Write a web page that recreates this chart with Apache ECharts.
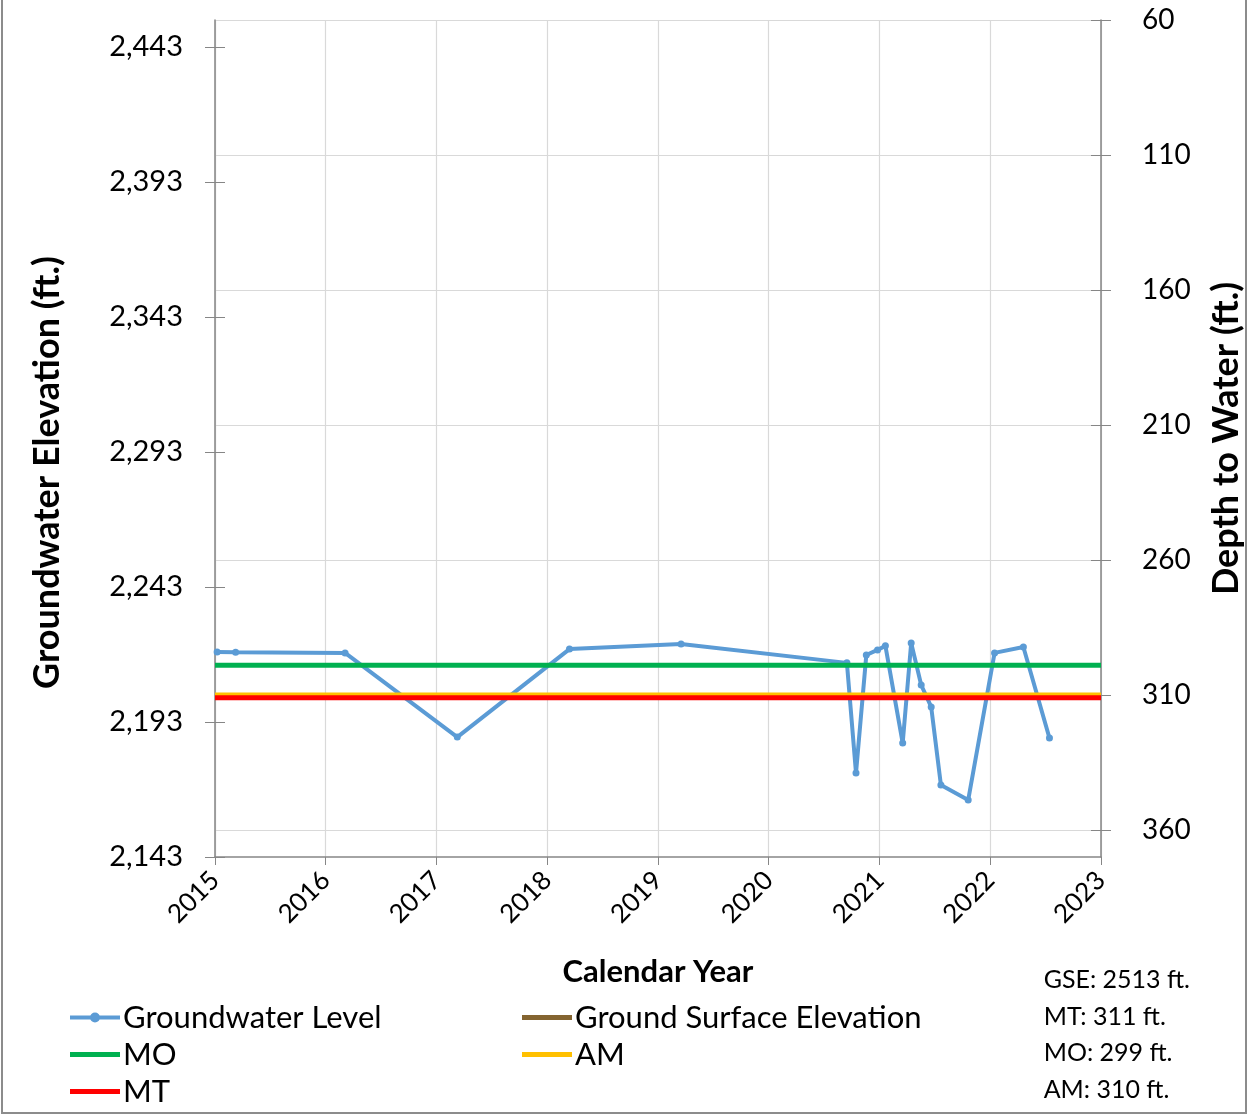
<!DOCTYPE html>
<html>
<head>
<meta charset="utf-8">
<script src="https://cdn.jsdelivr.net/npm/echarts@6/dist/echarts.min.js"></script>
<style>
html, body { margin: 0; padding: 0; background: #fff; }
#chart { width: 1249px; height: 1118px; }
</style>
</head>
<body>
<div id="chart"></div>
<script>
// measured groundwater levels (elevation, ft.)
var sampleDates = ['2015-01-08', '2015-03-10', '2016-03-05', '2017-03-10', '2018-03-15',
    '2019-03-18', '2020-09-15', '2020-10-15', '2020-11-18', '2020-12-25', '2021-01-20',
    '2021-03-18', '2021-04-15', '2021-05-18', '2021-06-20', '2021-07-22', '2021-10-20',
    '2022-01-15', '2022-04-20', '2022-07-15'];
var waterLevels = [2218.9, 2218.8, 2218.6, 2187.4, 2220.0,
    2221.9, 2214.9, 2174.1, 2217.8, 2219.7, 2221.2,
    2185.2, 2222.3, 2206.7, 2198.6, 2169.7, 2164.1,
    2218.6, 2220.8, 2187.1];

// well thresholds
var gse = 2513;          // ground surface elevation
var mtDepth = 311;
var moDepth = 299;
var amDepth = 310;

var elevTicks = [2143, 2193, 2243, 2293, 2343, 2393, 2443];
var depthTicks = [60, 110, 160, 210, 260, 310, 360];
var xStart = '2015-01-01';
var xEnd = '2023-01-01';

var FONT = 'Lato';

// legend icons: thick line, and thick line with a dot (both drawn clockwise)
var LINE_ICON = 'path://M0,0 L0,0 M0,10 L0,10 M0,2.5 L50,2.5 L50,7.5 L0,7.5 Z';
var DOT_ICON = 'path://M0,0 L0,0 M0,10 L0,10 M0,3 L50,3 L50,7 L0,7 Z M20,5 A5,5 0 1,1 30,5 A5,5 0 1,1 20,5 Z';

function withComma(v) {
    var s = String(Math.round(v));
    return s.replace(/\B(?=(\d{3})+(?!\d))/g, ',');
}

function flatLine(elev) {
    return [[xStart, elev], [xEnd, elev]];
}

var gwData = sampleDates.map(function (d, i) { return [d, waterLevels[i]]; });

var chart = echarts.init(document.getElementById('chart'));

var legendText = { fontFamily: FONT, fontSize: 31, color: '#000', lineHeight: 30, padding: [0, 0, 0, -2] };

var option = {
    animation: false,
    backgroundColor: '#fff',
    textStyle: { fontFamily: FONT },
    grid: { left: 215, right: 148, top: 20, bottom: 261, containLabel: false, outerBoundsMode: 'none' },
    xAxis: {
        type: 'time',
        min: xStart,
        max: xEnd,
        minInterval: 365 * 24 * 3600 * 1000,
        name: 'Calendar Year',
        nameLocation: 'middle',
        nameGap: 99,
        nameTextStyle: { fontFamily: FONT, fontSize: 31, fontWeight: 'bold', color: '#000' },
        axisLine: { lineStyle: { color: '#868686', width: 1.5 } },
        axisTick: { show: true, length: 8, lineStyle: { color: '#868686' } },
        axisLabel: {
            rotate: 45,
            fontSize: 26,
            color: '#000',
            margin: 19,
            formatter: '{yyyy}',
            showMinLabel: true,
            showMaxLabel: true
        },
        splitLine: { show: true, lineStyle: { color: '#d9d9d9', width: 1.2 } }
    },
    yAxis: [
        {
            type: 'value',
            position: 'left',
            min: 2143,
            max: 2453,
            name: 'Groundwater Elevation (ft.)',
            nameLocation: 'middle',
            nameRotate: 90,
            nameGap: 150,
            nameTextStyle: {
                fontFamily: FONT, fontSize: 36, fontWeight: 'bold', color: '#000',
                padding: [0, 68, 0, 0]
            },
            axisLine: { show: true, lineStyle: { color: '#868686', width: 1.5 } },
            axisTick: { show: true, length: 10, customValues: elevTicks, lineStyle: { color: '#868686' } },
            axisLabel: {
                customValues: elevTicks,
                fontSize: 29,
                color: '#000',
                margin: 32,
                formatter: withComma
            },
            splitLine: { show: false }
        },
        {
            type: 'value',
            position: 'right',
            inverse: true,
            min: 60,
            max: 370,
            name: 'Depth to Water (ft.)',
            nameLocation: 'middle',
            nameRotate: 90,
            nameGap: 107,
            nameTextStyle: { fontFamily: FONT, fontSize: 36, fontWeight: 'bold', color: '#000' },
            axisLine: { show: true, lineStyle: { color: '#868686', width: 1.5 } },
            axisTick: { show: true, length: 10, customValues: depthTicks, lineStyle: { color: '#868686' } },
            axisLabel: {
                customValues: depthTicks,
                fontSize: 28,
                color: '#000',
                margin: 41
            },
            splitLine: { show: true, lineStyle: { color: '#d9d9d9', width: 1.2 } }
        },
        {
            // inner half of the cross ticks on the left
            type: 'value',
            position: 'left',
            min: 2143,
            max: 2453,
            axisLine: { show: false },
            axisTick: { show: true, inside: true, length: 10, customValues: elevTicks, lineStyle: { color: '#868686' } },
            axisLabel: { show: false },
            splitLine: { show: false }
        },
        {
            // inner half of the cross ticks on the right
            type: 'value',
            position: 'right',
            inverse: true,
            min: 60,
            max: 370,
            axisLine: { show: false },
            axisTick: { show: true, inside: true, length: 10, customValues: depthTicks, lineStyle: { color: '#868686' } },
            axisLabel: { show: false },
            splitLine: { show: false }
        }
    ],
    legend: [
        {
            orient: 'vertical',
            left: 65,
            top: 997,
            height: 120,
            itemWidth: 50,
            itemHeight: 10,
            itemGap: 6,
            textStyle: legendText,
            data: [
                { name: 'Groundwater Level', icon: DOT_ICON },
                { name: 'MO', icon: LINE_ICON },
                { name: 'MT', icon: LINE_ICON }
            ]
        },
        {
            orient: 'vertical',
            left: 517,
            top: 997,
            height: 120,
            itemWidth: 50,
            itemHeight: 10,
            itemGap: 6,
            textStyle: legendText,
            data: [
                { name: 'Ground Surface Elevation', icon: LINE_ICON },
                { name: 'AM', icon: LINE_ICON }
            ]
        }
    ],
    graphic: [
        {
            type: 'rect',
            shape: { x: 2, y: -2, width: 1244, height: 1115 },
            style: { fill: 'none', stroke: '#8c8c8c', lineWidth: 2 },
            silent: true
        },
        {
            type: 'text',
            right: 59,
            top: 962,
            style: {
                text: ['GSE: ' + gse + ' ft.', 'MT: ' + mtDepth + ' ft.', 'MO: ' + moDepth + ' ft.', 'AM: ' + amDepth + ' ft.'].join('\n'),
                align: 'right',
                fontFamily: FONT,
                fontSize: 25,
                lineHeight: 36.5,
                fill: '#000'
            }
        }
    ],
    series: [
        {
            name: 'Groundwater Level',
            type: 'line',
            data: gwData,
            symbol: 'circle',
            symbolSize: 7,
            lineStyle: { color: '#5b9bd5', width: 4 },
            itemStyle: { color: '#5b9bd5' },
            z: 2
        },
        {
            name: 'Ground Surface Elevation',
            type: 'line',
            data: flatLine(gse),
            symbol: 'none',
            clip: true,
            lineStyle: { color: '#846430', width: 4 },
            itemStyle: { color: '#846430' },
            z: 3
        },
        {
            name: 'MO',
            type: 'line',
            data: flatLine(gse - moDepth),
            symbol: 'none',
            lineStyle: { color: '#00b050', width: 5 },
            itemStyle: { color: '#00b050' },
            z: 3
        },
        {
            name: 'AM',
            type: 'line',
            data: flatLine(gse - amDepth),
            symbol: 'none',
            lineStyle: { color: '#ffc000', width: 5 },
            itemStyle: { color: '#ffc000' },
            z: 3
        },
        {
            name: 'MT',
            type: 'line',
            data: flatLine(gse - mtDepth),
            symbol: 'none',
            lineStyle: { color: '#ff0000', width: 5 },
            itemStyle: { color: '#ff0000' },
            z: 3
        }
    ]
};

chart.setOption(option);
</script>
</body>
</html>
